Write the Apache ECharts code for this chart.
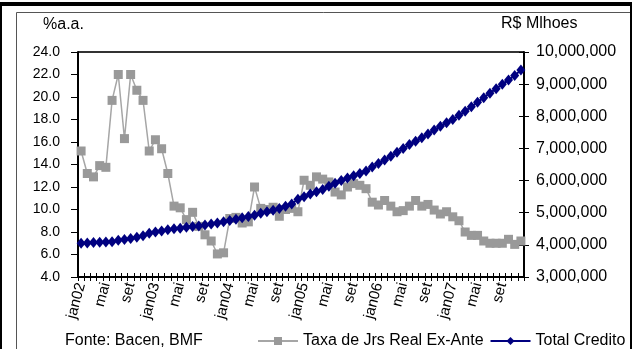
<!DOCTYPE html>
<html>
<head>
<meta charset="utf-8">
<script src="https://cdn.jsdelivr.net/npm/echarts@6/dist/echarts.min.js"></script>
<style>
  html, body { margin: 0; padding: 0; background: #fff; }
  #chart { width: 632px; height: 349px; }
</style>
</head>
<body>
<div id="chart"></div>
<script>
// Monthly axis: jan02 .. dez07
const monthNames = ['jan', 'fev', 'mar', 'abr', 'mai', 'jun', 'jul', 'ago', 'set', 'out', 'nov', 'dez'];
const years = ['02', '03', '04', '05', '06', '07'];
const categories = [];
years.forEach(y => monthNames.forEach((m, k) => categories.push(k === 0 ? m + y : m)));

// Taxa de juros real ex-ante (% a.a.)
const taxaReal = [
  15.2, 13.2, 12.9, 13.9, 13.75, 19.7, 22.0, 16.3, 22.0, 20.6, 19.7, 15.2,
  16.2, 15.4, 13.2, 10.3, 10.15, 9.1, 9.75, 8.5, 7.75, 7.2, 6.05, 6.15,
  9.2, 9.3, 8.8, 8.9, 12.0, 10.1, 10.0, 10.2, 9.4, 10.0, 10.1, 9.8,
  12.6, 12.15, 12.9, 12.7, 12.45, 11.55, 11.3, 12.0, 12.3, 12.15, 11.85, 10.65,
  10.4, 10.8, 10.3, 9.8, 9.9, 10.3, 10.8, 10.3, 10.45, 9.95, 9.6, 9.8,
  9.35, 9.0, 8.0, 7.7, 7.7, 7.2, 7.0, 7.0, 7.0, 7.35, 6.9, 7.2
];

// Total de crédito (R$ milhões)
const totalCredito = [
  4050000, 4060000, 4070000, 4080000, 4090000, 4100000, 4140000, 4170000, 4200000, 4240000, 4280000, 4360000,
  4400000, 4430000, 4470000, 4500000, 4520000, 4550000, 4570000, 4590000, 4620000, 4650000, 4680000, 4720000,
  4760000, 4800000, 4840000, 4880000, 4920000, 4980000, 5030000, 5080000, 5130000, 5200000, 5270000, 5420000,
  5500000, 5580000, 5650000, 5720000, 5820000, 5920000, 6000000, 6080000, 6150000, 6220000, 6300000, 6420000,
  6530000, 6640000, 6760000, 6880000, 7000000, 7120000, 7220000, 7330000, 7450000, 7570000, 7690000, 7800000,
  7900000, 8030000, 8160000, 8300000, 8440000, 8580000, 8720000, 8860000, 9000000, 9130000, 9270000, 9440000
];

const leftTicks = { min: 4, max: 24, step: 2 };
const rightTicks = { min: 3000000, max: 10000000, step: 1000000 };

const FONT = 'Liberation Sans, Arial, sans-serif';
const chart = echarts.init(document.getElementById('chart'));

const baseX = {
  type: 'category',
  data: categories,
  gridIndex: 0,
  position: 'bottom',
  boundaryGap: true
};

const plainText = size => ({ fontFamily: FONT, fontSize: size, fontWeight: 'normal', color: '#000' });

chart.setOption({
  animation: false,
  backgroundColor: '#fff',
  textStyle: { fontFamily: FONT, color: '#000' },
  grid: { left: 78, right: 108, top: 52, bottom: 72 },
  title: [
    { text: '%a.a.', left: 38, top: 12, textStyle: plainText(16) },
    { text: 'R$ Mlhoes', left: 496, top: 11, textStyle: plainText(16) },
    { text: 'Fonte: Bacen, BMF', left: 60, top: 328, textStyle: plainText(16) }
  ],
  legend: {
    left: 252, top: 328,
    itemWidth: 40, itemHeight: 10, itemGap: 6,
    textStyle: plainText(16),
    data: ['Taxa de Jrs Real Ex-Ante', 'Total Credito']
  },
  graphic: [
    // outer frame
    { type: 'rect', shape: { x: 0, y: 2, width: 2, height: 347 }, style: { fill: '#000' } },
    { type: 'rect', shape: { x: 0, y: 2, width: 632, height: 4 }, style: { fill: '#000' } },
    { type: 'rect', shape: { x: 630, y: 2, width: 2, height: 347 }, style: { fill: '#000' } },
    // inner chart-area border
    { type: 'line', shape: { x1: 16.5, y1: 12.5, x2: 630, y2: 12.5 }, style: { stroke: '#555', lineWidth: 1 } },
    { type: 'line', shape: { x1: 16.5, y1: 12.5, x2: 16.5, y2: 349 }, style: { stroke: '#555', lineWidth: 1 } },
    // plot-area top edge
    { type: 'line', shape: { x1: 78, y1: 52, x2: 524, y2: 52 }, style: { stroke: '#333', lineWidth: 2 } }
  ],
  xAxis: [
    Object.assign({}, baseX, {
      axisLine: { lineStyle: { color: '#000', width: 2 } },
      axisTick: { show: true, interval: 0, length: 4, lineStyle: { color: '#000', width: 1 } },
      axisLabel: { interval: 3, rotate: 75, margin: 6, fontFamily: FONT, fontSize: 15, color: '#000' },
      splitLine: { show: false }
    }),
    Object.assign({}, baseX, {
      axisLine: { show: false },
      axisTick: { show: true, inside: true, interval: 0, length: 4, lineStyle: { color: '#000', width: 1 } },
      axisLabel: { show: false },
      splitLine: { show: false }
    })
  ],
  yAxis: [
    {
      type: 'value', position: 'left',
      min: leftTicks.min, max: leftTicks.max, interval: leftTicks.step,
      axisLine: { show: true, lineStyle: { color: '#000', width: 2 } },
      axisTick: { show: true, length: 7, lineStyle: { color: '#000', width: 1 } },
      axisLabel: { margin: 18, fontFamily: FONT, fontSize: 14, color: '#000', formatter: v => v.toFixed(1) },
      splitLine: { show: false }
    },
    {
      type: 'value', position: 'right',
      min: rightTicks.min, max: rightTicks.max, interval: rightTicks.step,
      axisLine: { show: true, lineStyle: { color: '#000', width: 2 } },
      axisTick: { show: true, length: 5, lineStyle: { color: '#000', width: 1 } },
      axisLabel: { margin: 12, fontFamily: FONT, fontSize: 16, color: '#000', formatter: v => v.toLocaleString('en-US') },
      splitLine: { show: false }
    },
    {
      type: 'value', position: 'right',
      min: rightTicks.min, max: rightTicks.max, interval: rightTicks.step,
      axisLine: { show: false },
      axisTick: { show: true, inside: true, length: 5, lineStyle: { color: '#000', width: 1 } },
      axisLabel: { show: false },
      splitLine: { show: false }
    }
  ],
  series: [
    {
      name: 'Taxa de Jrs Real Ex-Ante',
      type: 'line',
      xAxisIndex: 0, yAxisIndex: 0,
      data: taxaReal,
      showAllSymbol: true,
      symbol: 'rect', symbolSize: 9,
      lineStyle: { color: '#a6a6a6', width: 1.5 },
      itemStyle: { color: '#999999' },
      z: 2
    },
    {
      name: 'Total Credito',
      type: 'line',
      xAxisIndex: 0, yAxisIndex: 1,
      data: totalCredito,
      showAllSymbol: true,
      symbol: 'diamond', symbolSize: [9, 11],
      lineStyle: { color: '#000080', width: 2 },
      itemStyle: { color: '#000080' },
      z: 3
    }
  ]
});
</script>
</body>
</html>
